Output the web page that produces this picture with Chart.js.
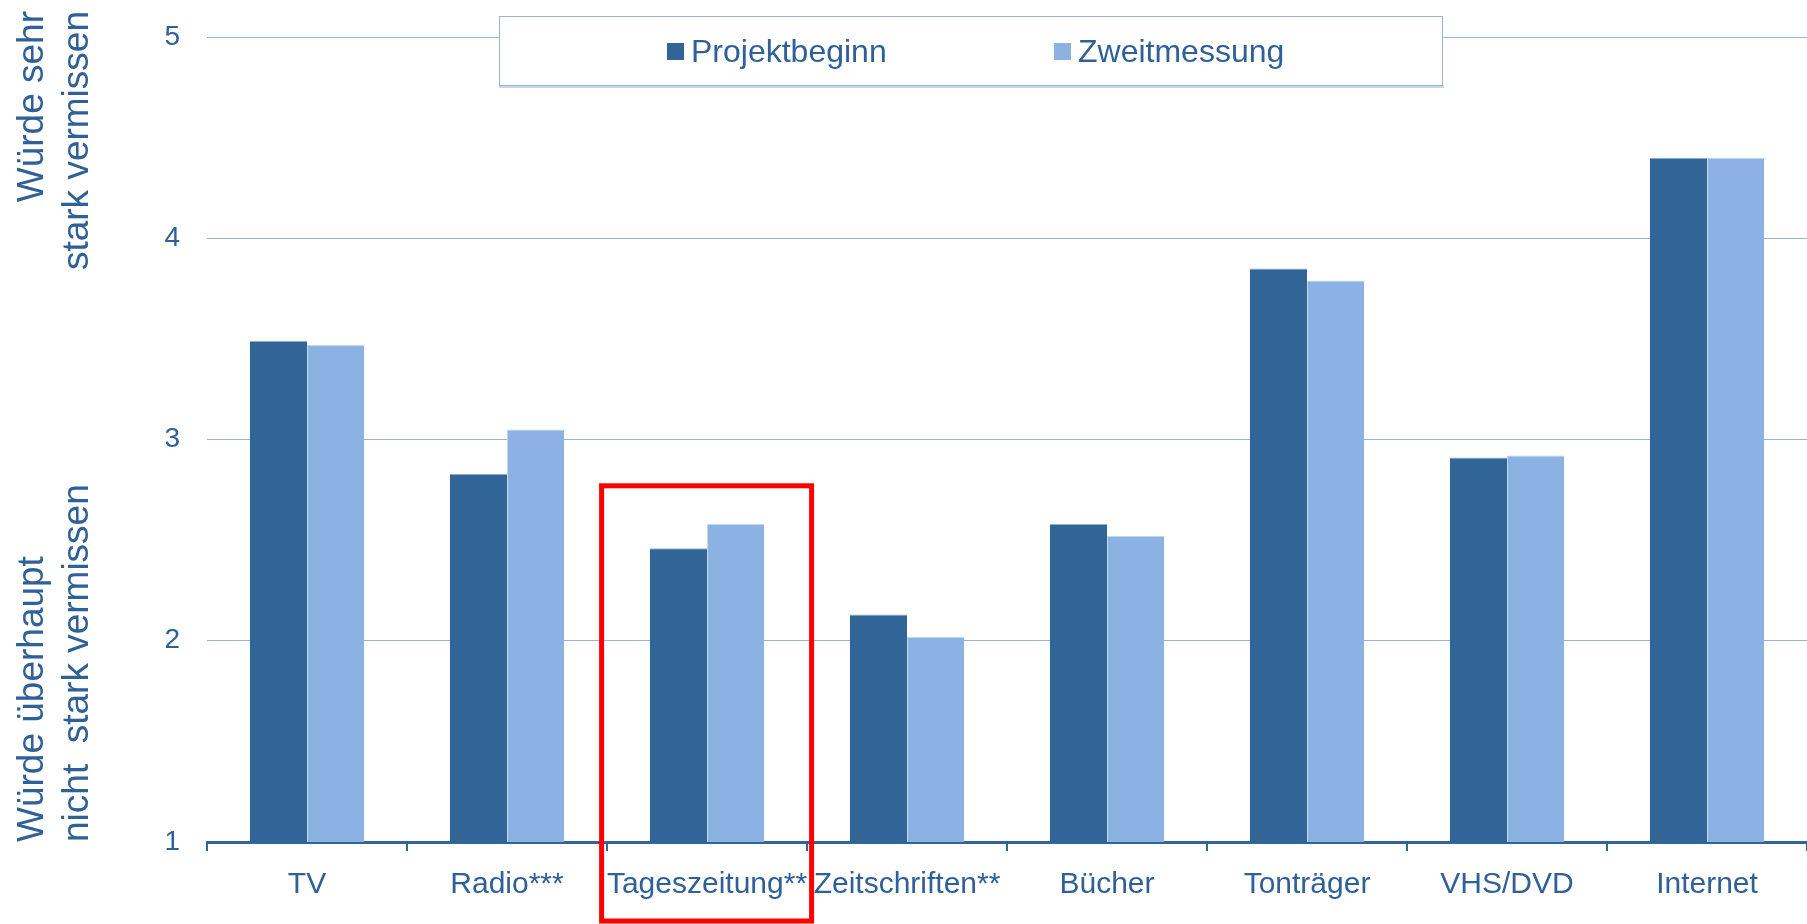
<!DOCTYPE html>
<html lang="de">
<head>
<meta charset="utf-8">
<title>Vermissen der Medien</title>
<script src="https://cdn.jsdelivr.net/npm/chart.js@4.4.1/dist/chart.umd.min.js"></script>
<style>
  html, body { margin: 0; padding: 0; background: #fff; }
  #wrap { width: 1807px; height: 924px; position: relative; }
</style>
</head>
<body>
<div id="wrap"><canvas id="chart"></canvas></div>
<script>
// Daten
const categories = ["TV", "Radio***", "Tageszeitung**", "Zeitschriften**", "Bücher", "Tonträger", "VHS/DVD", "Internet"];
const projektbeginn = [3.49, 2.83, 2.46, 2.13, 2.58, 3.85, 2.91, 4.40];
const zweitmessung = [3.47, 3.05, 2.58, 2.02, 2.52, 3.79, 2.92, 4.40];
const seriesNames = ["Projektbeginn", "Zweitmessung"];
const yTicks = [1, 2, 3, 4, 5];
const titleTop = ["Würde sehr", "stark vermissen"];
const titleBottom = ["Würde überhaupt", "nicht  stark vermissen"];
const highlightIndex = 2; // Tageszeitung**
const highlightTop = 2.77;

const dark = "#316497";
const light = "#8cb2e3";
const textColor = "#2f6097";
const gridColor = "#9ab4d2";
const fontFamily = "'Liberation Sans', Arial, sans-serif";

// Achsentitel links (zwei getrennte Bloecke)
const axisTitlesPlugin = {
  id: "axisTitles",
  afterDraw(chart) {
    const ctx = chart.ctx;
    const area = chart.chartArea;
    ctx.save();
    ctx.fillStyle = textColor;
    ctx.font = "37px " + fontFamily;
    ctx.textBaseline = "alphabetic";
    ctx.rotate(-Math.PI / 2);
    ctx.textAlign = "right";
    ctx.fillText(titleTop[0], -11, 43);
    ctx.fillText(titleTop[1], -11, 88);
    ctx.textAlign = "left";
    ctx.fillText(titleBottom[0], -area.bottom, 43);
    ctx.fillText(titleBottom[1], -area.bottom, 88);
    ctx.restore();
  },
};

// Legende als Kasten oben
const legendBoxPlugin = {
  id: "legendBox",
  afterDraw(chart) {
    const ctx = chart.ctx;
    ctx.save();
    // Schatten unten
    ctx.fillStyle = "#ccd6e3";
    ctx.fillRect(499, 85, 945, 3);
    ctx.fillStyle = "#fff";
    ctx.fillRect(499, 16, 944, 70);
    ctx.strokeStyle = "#9ab4d2";
    ctx.lineWidth = 1;
    ctx.strokeRect(499.5, 16.5, 943, 69);

    const items = [
      { x: 667, color: dark, label: seriesNames[0] },
      { x: 1054, color: light, label: seriesNames[1] },
    ];
    ctx.font = "32px " + fontFamily;
    ctx.textBaseline = "alphabetic";
    ctx.textAlign = "left";
    items.forEach((it) => {
      ctx.fillStyle = it.color;
      ctx.fillRect(it.x, 43, 17, 17);
      ctx.fillStyle = textColor;
      ctx.fillText(it.label, it.x + 24, 62);
    });
    ctx.restore();
  },
};

// roter Rahmen um die hervorgehobene Kategorie
const highlightPlugin = {
  id: "highlight",
  afterDraw(chart) {
    const x = chart.scales.x;
    const y = chart.scales.y;
    const cat = (x.right - x.left) / categories.length;
    const cx = x.getPixelForValue(highlightIndex);
    const top = y.getPixelForValue(highlightTop);
    const ctx = chart.ctx;
    ctx.save();
    ctx.strokeStyle = "#ff0000";
    ctx.lineWidth = 5;
    ctx.strokeRect(cx - cat * 0.527, top, cat * 1.05, chart.height - 3 - top);
    ctx.restore();
  },
};

new Chart(document.getElementById("chart"), {
  type: "bar",
  data: {
    labels: categories,
    datasets: [
      {
        label: seriesNames[0],
        data: projektbeginn,
        backgroundColor: dark,
        borderColor: "#8faed3",
        borderWidth: { top: 1, left: 0, right: 0, bottom: 0 },
        borderSkipped: false,
        categoryPercentage: 0.572,
        barPercentage: 1.0,
      },
      {
        label: seriesNames[1],
        data: zweitmessung,
        backgroundColor: light,
        borderColor: "#c4d7ef",
        borderWidth: { top: 1, left: 1, right: 0, bottom: 0 },
        borderSkipped: false,
        categoryPercentage: 0.572,
        barPercentage: 1.0,
      },
    ],
  },
  options: {
    responsive: true,
    maintainAspectRatio: false,
    animation: false,
    layout: { padding: { top: 37, right: 0, left: 0, bottom: 0 } },
    plugins: {
      legend: { display: false },
      tooltip: { enabled: false },
    },
    scales: {
      x: {
        grid: {
          offset: true,
          drawOnChartArea: false,
          drawTicks: true,
          tickLength: 9,
          color: dark,
          lineWidth: 2,
        },
        border: { display: true, color: dark, width: 3 },
        ticks: {
          color: textColor,
          font: { family: fontFamily, size: 30 },
          padding: 16,
          maxRotation: 0,
          autoSkip: false,
        },
        afterFit(scale) {
          scale.height = 82;
        },
      },
      y: {
        min: yTicks[0],
        max: yTicks[yTicks.length - 1],
        afterBuildTicks(scale) {
          scale.ticks = yTicks.map((v) => ({ value: v }));
        },
        grid: {
          color: gridColor,
          lineWidth: 1,
          drawTicks: false,
        },
        border: { display: false },
        ticks: {
          color: textColor,
          font: { family: fontFamily, size: 28 },
          padding: 27,
        },
        afterFit(scale) {
          scale.width = 207;
          scale.paddingTop = 0;
          scale.paddingBottom = 0;
        },
      },
    },
  },
  plugins: [axisTitlesPlugin, legendBoxPlugin, highlightPlugin],
});
</script>
</body>
</html>
